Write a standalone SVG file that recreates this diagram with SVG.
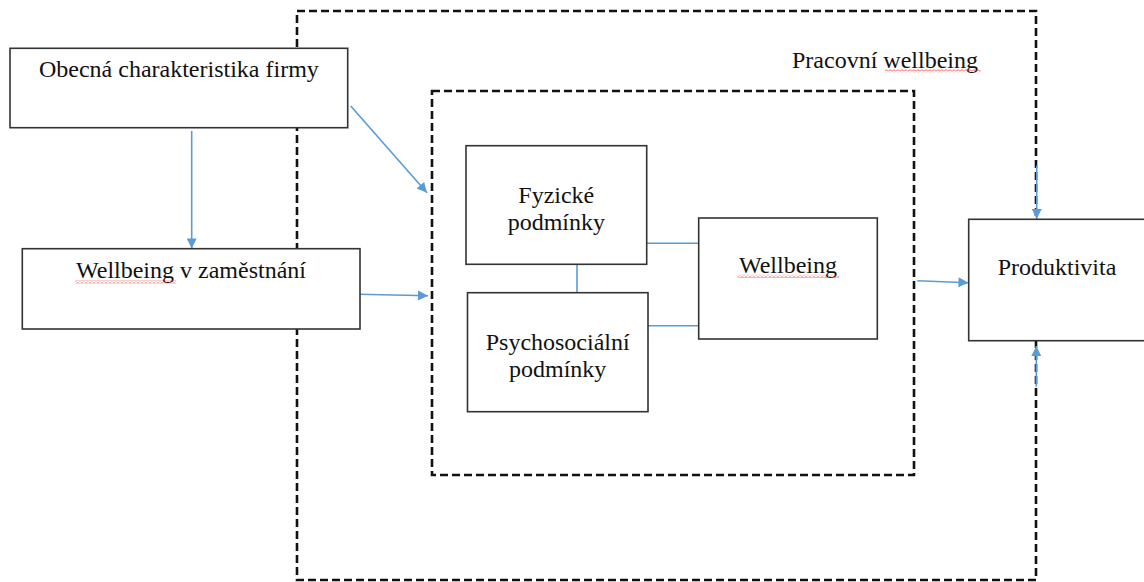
<svg xmlns="http://www.w3.org/2000/svg" width="1144" height="582" viewBox="0 0 1144 582">
  <defs>
    <style>
      .frame { fill: none; stroke: #111; stroke-width: 2.6; stroke-dasharray: 8 4; }
      .box { fill: #fff; stroke: #333; stroke-width: 1.6; }
      .conn { fill: none; stroke: #5b9bd5; stroke-width: 1.6; }
      .arrow { marker-end: url(#ah); }
      .mid { text-anchor: middle; }
      .sq { fill: url(#squiggle); }
    </style>
    <marker id="ah" viewBox="0 0 10 10" refX="10" refY="5" markerWidth="12" markerHeight="10" markerUnits="userSpaceOnUse" orient="auto">
      <path d="M0,0 L10,5 L0,10 Z" fill="#5b9bd5"/>
    </marker>
    <pattern id="squiggle" x="0" y="0" width="4" height="3" patternUnits="userSpaceOnUse">
      <polyline points="0,2.5 2,0.5 4,2.5" fill="none" stroke="#e53935" stroke-width="0.9"/>
    </pattern>
  </defs>

  <g id="frames">
    <rect id="pracovni-frame" class="frame" x="297" y="11" width="739" height="569"/>
    <rect id="wellbeing-frame" class="frame" x="432" y="91" width="482" height="384"/>
  </g>

  <g id="connectors">
    <line class="conn arrow" x1="191.7" y1="131" x2="191.7" y2="248.5"/>
    <line class="conn arrow" x1="350.7" y1="106" x2="427" y2="192.7"/>
    <line class="conn arrow" x1="359" y1="294.3" x2="428" y2="295.7"/>
    <line class="conn arrow" x1="917.3" y1="280.7" x2="968.5" y2="282.7"/>
    <line class="conn arrow" x1="1036.7" y1="165.7" x2="1036.7" y2="219"/>
    <line class="conn arrow" x1="1036.3" y1="386.7" x2="1036.3" y2="346"/>
    <line class="conn" x1="577" y1="264.3" x2="577" y2="292.7"/>
    <line class="conn" x1="646.7" y1="243.3" x2="698.7" y2="243.3"/>
    <line class="conn" x1="648" y1="325.7" x2="698.7" y2="325.7"/>
  </g>

  <g font-family="Liberation Serif, Times New Roman, serif" font-size="24" fill="#111">
  <g id="obecna">
    <rect class="box" x="10" y="48.3" width="337.7" height="79.4"/>
    <text class="mid" x="178.9" y="77">Obecná charakteristika firmy</text>
  </g>

  <g id="wellbeing-zamestnani">
    <rect class="box" x="22.3" y="248.7" width="337.7" height="80.3"/>
    <text class="mid" x="191" y="278">Wellbeing v zaměstnání</text>
    <rect class="sq" x="75" y="280.5" width="101" height="3"/>
  </g>

  <g id="fyzicke">
    <rect class="box" x="466" y="145.7" width="180.7" height="118.6"/>
    <text class="mid" x="556.3" y="202.7">Fyzické</text>
    <text class="mid" x="556.3" y="229.5">podmínky</text>
  </g>

  <g id="psychosocialni">
    <rect class="box" x="467.5" y="292.7" width="180.5" height="119"/>
    <text class="mid" x="557.7" y="350">Psychosociální</text>
    <text class="mid" x="557.7" y="377">podmínky</text>
  </g>

  <g id="wellbeing">
    <rect class="box" x="698.7" y="218" width="178.6" height="121"/>
    <text class="mid" x="788" y="273">Wellbeing</text>
    <rect class="sq" x="737.7" y="274.8" width="101.6" height="3"/>
  </g>

  <g id="produktivita">
    <rect class="box" x="968.7" y="219.3" width="190" height="121.4"/>
    <text x="997.7" y="275">Produktivita</text>
  </g>

  <g id="pracovni-label">
    <text x="792" y="68">Pracovní wellbeing</text>
    <rect class="sq" x="885" y="69.3" width="95.7" height="3"/>
  </g>
  </g>
</svg>
